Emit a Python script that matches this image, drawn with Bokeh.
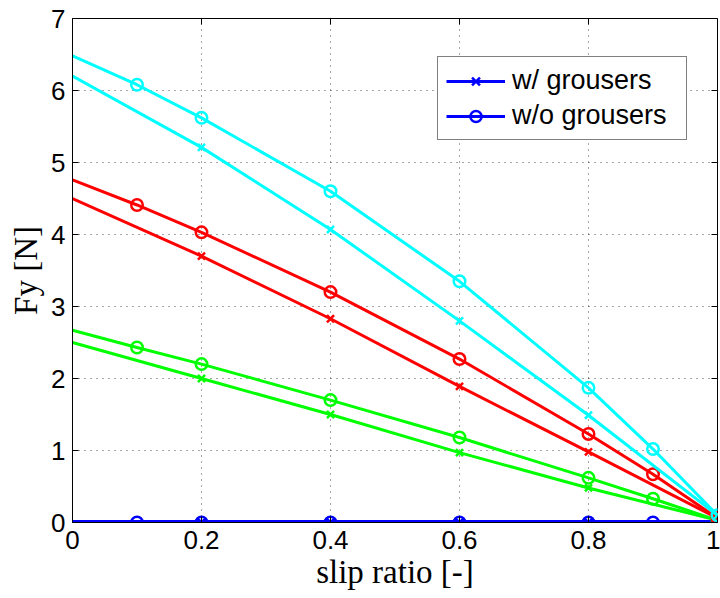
import math
from bokeh.plotting import figure
from bokeh.models import Range1d, FixedTicker, Legend, LegendItem
from bokeh.embed import file_html
from bokeh.resources import INLINE

# ---- data ----
slip_w = [0.0, 0.2, 0.4, 0.6, 0.8, 1.0]
slip_wo = [0.0, 0.1, 0.2, 0.4, 0.6, 0.8, 0.9, 1.0]

cyan_w = [6.20, 5.21, 4.07, 2.80, 1.49, 0.10]
cyan_wo = [6.48, 6.08, 5.62, 4.60, 3.35, 1.87, 1.02, 0.10]
red_w = [4.50, 3.70, 2.83, 1.89, 0.98, 0.06]
red_wo = [4.76, 4.41, 4.03, 3.20, 2.27, 1.23, 0.67, 0.06]
green_w = [2.50, 2.00, 1.50, 0.97, 0.48, 0.03]
green_wo = [2.67, 2.43, 2.20, 1.70, 1.18, 0.62, 0.33, 0.03]
blue_w = [0.0, 0.0, 0.0, 0.0, 0.0, 0.0]
blue_wo = [0.0, 0.0, 0.0, 0.0, 0.0, 0.0, 0.0, 0.0]

x_ticks = [0, 0.2, 0.4, 0.6, 0.8, 1.0]
x_tick_labels = ["0", "0.2", "0.4", "0.6", "0.8", "1"]
y_ticks = [0, 1, 2, 3, 4, 5, 6, 7]

series = [
    ("#0000FF", blue_w, blue_wo),
    ("#00FF00", green_w, green_wo),
    ("#FF0000", red_w, red_wo),
    ("#00FFFF", cyan_w, cyan_wo),
]

X0, X1, Y0, Y1 = 0, 1, 0, 7

p = figure(width=720, height=598, output_backend="svg", toolbar_location=None,
           x_range=Range1d(X0, X1), y_range=Range1d(Y0, Y1),
           min_border_left=72, min_border_right=3, min_border_top=18, min_border_bottom=76)

p.background_fill_color = "white"
p.border_fill_color = "white"
p.outline_line_color = "black"
p.outline_line_width = 1

SANS = "Liberation Sans"
SERIF = "Liberation Serif"

p.xaxis.ticker = FixedTicker(ticks=x_ticks)
p.xaxis.major_label_overrides = {t: l for t, l in zip(x_ticks, x_tick_labels)}
p.yaxis.ticker = FixedTicker(ticks=y_ticks)
for ax in (p.xaxis[0], p.yaxis[0]):
    ax.major_label_text_font = SANS
    ax.major_label_text_font_size = "26px"
    ax.major_label_text_color = "black"
    ax.major_tick_in = 6
    ax.major_tick_out = 0
    ax.minor_tick_in = 0
    ax.minor_tick_out = 0
    ax.axis_line_color = "black"
    ax.major_tick_line_color = "black"
    ax.axis_label_text_font = SERIF
    ax.axis_label_text_font_size = "33px"
    ax.axis_label_text_font_style = "normal"
    ax.axis_label_text_color = "black"
p.xaxis.axis_label = "slip ratio [-]"
p.yaxis.axis_label = "Fy [N]"
p.xaxis.major_label_standoff = 8
p.yaxis.major_label_standoff = 7
p.xaxis.axis_label_standoff = 2
p.yaxis.axis_label_standoff = 4

for g, tk in ((p.xgrid[0], x_ticks), (p.ygrid[0], y_ticks)):
    g.ticker = FixedTicker(ticks=tk)
    g.grid_line_color = "black"
    g.grid_line_alpha = 0.7
    g.grid_line_dash = "1 5"
    g.grid_line_width = 1

# inward ticks on the top and right edges of the box (half of each dash is clipped off)
p.scatter(x_ticks, [Y1] * len(x_ticks), marker="dash", size=12, angle=math.pi / 2,
          line_color="black", line_width=1)
p.scatter([X1] * len(y_ticks), y_ticks, marker="dash", size=12,
          line_color="black", line_width=1)

# the zero-force blue series sits on the x axis; a wider underlay keeps it visible above the clip
p.line(slip_wo, blue_wo, line_color="#0000FF", line_width=5)

legend_items = {}
for color, yw, ywo in series:
    lw = p.line(slip_w, yw, line_color=color, line_width=3)
    sw = p.scatter(slip_w[1:], yw[1:], marker="x", size=10, line_color=color, line_width=2.5)
    lo = p.line(slip_wo, ywo, line_color=color, line_width=3)
    so = p.scatter(slip_wo[1:], ywo[1:], marker="circle", size=11.5, fill_color=None,
                   line_color=color, line_width=2.5)
    if color == "#0000FF":
        legend_items["w/ grousers"] = [lw, sw]
        legend_items["w/o grousers"] = [lo, so]

legend = Legend(items=[LegendItem(label=k, renderers=v) for k, v in legend_items.items()],
                location=(365, 382))
legend.label_text_font = SANS
legend.label_text_font_size = "27px"
legend.label_text_color = "black"
legend.border_line_color = "black"
legend.border_line_width = 1
legend.background_fill_alpha = 1
legend.glyph_width = 59
legend.glyph_height = 28
legend.label_height = 28
legend.label_width = 166
legend.spacing = 4
legend.padding = 8
legend.margin = 0
legend.label_standoff = 7
p.add_layout(legend)

open("out.html", "w").write(file_html(p, INLINE))
